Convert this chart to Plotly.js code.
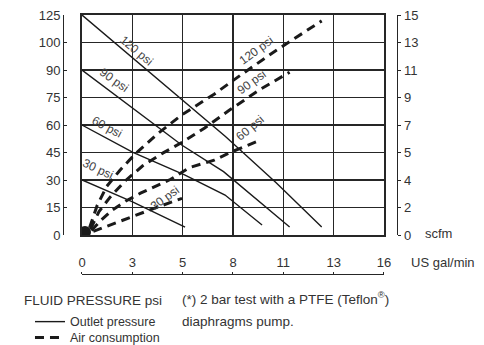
<!DOCTYPE html>
<html><head><meta charset="utf-8">
<script src="https://cdn.plot.ly/plotly-3.0.1.min.js"></script>
<style>html,body{margin:0;padding:0;background:#fff}#chart{width:484px;height:345px}</style>
</head><body><div id="chart"></div>
<script>
// Tick labels (grid is evenly spaced; labels as printed)
const xTickLabels = ['0','3','5','8','11','13','16'];
const yLeftTickLabels = ['0','15','30','45','60','75','90','100','125'];
const yRightTickLabels = ['0','2','4','5','7','9','11','13','15'];
const xMax = 16, yLeftMax = 125, yRightMax = 15;

// Outlet pressure (solid), left axis units
const out120x = [0, 2.65, 5.3, 7.6, 10.3, 12.7];
const out120y = [125, 101, 77, 56, 29.5, 4.5];
const out90x  = [0, 2.65, 5.3, 7.5, 9.3, 11.0];
const out90y  = [93.75, 72.5, 51, 36, 20, 4.5];
const out60x  = [0, 2.7, 5.46, 7.58, 9.54];
const out60y  = [62.5, 47, 34, 22.7, 5.7];
const out30x  = [0, 2.65, 5.46];
const out30y  = [31.25, 19, 4.5];

// Air consumption (dashed), right axis units (scfm)
const air120x = [0.4, 0.8, 1.3, 2.0, 2.8, 4.0, 5.3, 7.0, 8.4, 10.3, 12.7];
const air120y = [0.5, 2.0, 3.3, 4.4, 5.5, 6.9, 8.2, 9.6, 10.9, 12.6, 14.6];
const air90x  = [0.45, 0.9, 1.5, 2.3, 3.2, 4.3, 5.35, 6.5, 7.8, 9.4, 11.0];
const air90y  = [0.4, 1.6, 2.6, 3.7, 4.7, 5.6, 6.35, 7.3, 8.5, 9.9, 11.1];
const air60x  = [0.5, 1.0, 1.6, 2.3, 3.1, 4.7, 5.7, 7.0, 7.8, 9.5];
const air60y  = [0.3, 1.0, 1.7, 2.3, 2.85, 3.8, 4.6, 5.1, 5.6, 6.5];
const air30x  = [0.6, 1.1, 2.1, 3.1, 4.0, 5.3];
const air30y  = [0.25, 0.5, 0.95, 1.5, 1.9, 2.5];

const originX = [0.16], originY = [1.7];

const FONT = 'Liberation Sans, Arial, sans-serif';
const INK = '#1a1a1a', TXT = '#333333', GRID = '#262626';

function evenTicks(max, n){ const a=[]; for(let i=0;i<n;i++) a.push(max*i/(n-1)); return a; }
const xTicks = evenTicks(xMax, xTickLabels.length);
const yLTicks = evenTicks(yLeftMax, yLeftTickLabels.length);
const yRTicks = evenTicks(yRightMax, yRightTickLabels.length);

const solid = {color: INK, width: 1.4};
const dashed = {color: INK, width: 3, dash: '9px,6px'};
function sTrace(x,y,show){ return {x, y, type:'scatter', mode:'lines', line: solid, xaxis:'x', yaxis:'y', name:'Outlet pressure', showlegend: show, legend:'legend', hoverinfo:'skip'}; }
function dTrace(x,y,show){ return {x, y, type:'scatter', mode:'lines', line: dashed, xaxis:'x', yaxis:'y2', name:'Air consumption', showlegend: show, legend:'legend2', hoverinfo:'skip'}; }

const data = [
  sTrace(out120x,out120y,true), sTrace(out90x,out90y,false), sTrace(out60x,out60y,false), sTrace(out30x,out30y,false),
  dTrace(air120x,air120y,true), dTrace(air90x,air90y,false), dTrace(air60x,air60y,false), dTrace(air30x,air30y,false),
  {x: originX, y: originY, type:'scatter', mode:'markers', marker:{color:INK, size:12}, xaxis:'x2', yaxis:'y3', showlegend:false, hoverinfo:'skip', cliponaxis:true}
];

const xDom = [0.10396, 0.85149], yDom = [0.15058, 1];
const lab = (text, x, y, yref, ang) => ({text, x, y, xref:'x', yref, textangle: ang, showarrow:false, font:{family:FONT, size:12, color:'#444444'}});
const ptxt = (text, x, y, size) => ({text, x, y, xref:'paper', yref:'paper', xanchor:'left', yanchor:'middle', showarrow:false, font:{family:FONT, size:size||13.5, color:TXT}});
const legendStyle = (y) => ({x:-0.0248, xanchor:'left', y, yanchor:'middle', bgcolor:'rgba(0,0,0,0)', borderwidth:0, font:{family:FONT, size:12.5, color:TXT}});

const layout = {
  width:484, height:345,
  margin:{l:40, r:40, t:15, b:71, autoexpand:false},
  paper_bgcolor:'#fff', plot_bgcolor:'#fff',
  font:{family:FONT, size:13, color:TXT},
  showlegend:true,
  legend: legendStyle(-0.1853),
  legend2: legendStyle(-0.2470),
  xaxis:{domain:xDom, range:[0,xMax], tickvals:xTicks, showticklabels:false, ticks:'', showgrid:true, gridcolor:GRID, gridwidth:1.6, zeroline:false, showline:true, mirror:true, linecolor:GRID, linewidth:1.6, anchor:'y'},
  xaxis2:{overlaying:'x', anchor:'free', position:0, side:'top', range:[0,xMax], tickvals:xTicks, ticktext:xTickLabels, ticks:'outside', ticklen:2, tickcolor:GRID, showgrid:false, zeroline:false, showline:true, linecolor:GRID, linewidth:1.4, tickfont:{family:FONT, size:13, color:TXT}},
  yaxis:{domain:yDom, range:[0,yLeftMax], tickvals:yLTicks, showticklabels:false, ticks:'', showgrid:true, gridcolor:GRID, gridwidth:1.6, zeroline:false, showline:true, mirror:true, linecolor:GRID, linewidth:1.6, anchor:'x'},
  yaxis3:{overlaying:'y', anchor:'free', position:0.0569, side:'left', range:[0,yLeftMax], tickvals:yLTicks, ticktext:yLeftTickLabels, ticks:'inside', ticklen:3, tickcolor:GRID, showgrid:false, zeroline:false, showline:true, linecolor:GRID, linewidth:1.4, tickfont:{family:FONT, size:13, color:TXT}},
  yaxis2:{overlaying:'y', anchor:'free', position:0.8837, side:'right', range:[0,yRightMax], tickvals:yRTicks, ticktext:yRightTickLabels, ticks:'outside', ticklen:3, tickcolor:GRID, showgrid:false, zeroline:false, showline:true, linecolor:GRID, linewidth:1.4, tickfont:{family:FONT, size:13, color:TXT}},
  annotations:[
    lab('120 psi', 2.91, 104.5, 'y', 40),
    lab('90 psi', 1.7, 88, 'y', 35),
    lab('60 psi', 1.32, 61.4, 'y', 28),
    lab('30 psi', 0.85, 37.5, 'y', 25),
    lab('120 psi', 9.27, 12.6, 'y2', -36),
    lab('90 psi', 9.0, 10.4, 'y2', -36),
    lab('60 psi', 8.9, 7.3, 'y2', -40),
    lab('30 psi', 4.4, 2.5, 'y2', -36),
    ptxt('US gal/min', 0.913, 0.0425, 13),
    ptxt('scfm', 0.948, 0.158, 13),
    ptxt('FLUID PRESSURE psi', -0.0446, -0.1004),
    ptxt('(*) 2 bar test with a PTFE (Teflon<sup>®</sup>)', 0.3465, -0.0927),
    ptxt('diaphragms pump.', 0.3465, -0.185)
  ]
};
Plotly.newPlot('chart', data, layout, {staticPlot:true, displayModeBar:false});
</script></body></html>
